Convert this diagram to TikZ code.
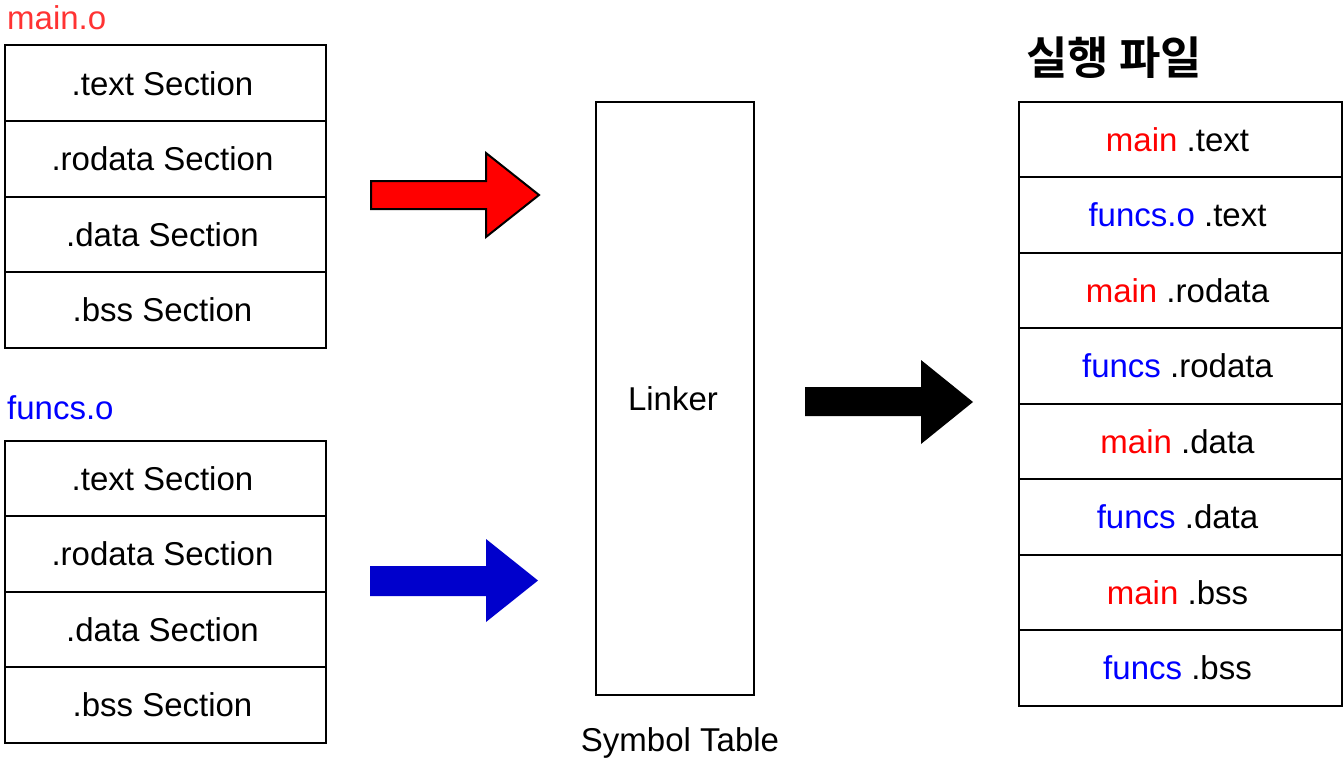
\documentclass[tikz,border=0pt]{standalone}
\usepackage{fontspec}
\setmainfont{Liberation Sans}
\newfontfamily\kr{Noto Sans CJK KR}[BoldFont={* Bold}]
\definecolor{lred}{HTML}{FF3333}
\definecolor{tred}{HTML}{FF0000}
\definecolor{tblue}{HTML}{0000FF}
\definecolor{ablue}{HTML}{0000CC}
\tikzset{
  sec/.style={draw=black, line width=2pt, minimum width=321pt, minimum height=75.5pt, anchor=north west, inner sep=0pt, font=\fontsize{33}{38}\selectfont},
  lbl/.style={anchor=west, inner sep=0pt, font=\fontsize{33}{38}\selectfont},
  blockarrow/.style={line width=2pt, line join=miter},
}
\newcommand{\lft}[1]{#1\hspace*{6pt}}
\begin{document}
\begin{tikzpicture}[x=1pt,y=-1pt]
\useasboundingbox (0,0) rectangle (1343,768);
% main.o
\node[lbl, text=lred] (mainlbl) at (7,18) {main.o};
\node[sec] (m1) at (4,44.5) {\lft{.text Section}};
\node[sec] (m2) at (4,120) {\lft{.rodata Section}};
\node[sec] (m3) at (4,195.5) {\lft{.data Section}};
\node[sec] (m4) at (4,271) {\lft{.bss Section}};
% funcs.o
\node[lbl, text=tblue] (funcslbl) at (7,408) {funcs.o};
\node[sec] (f1) at (4,439.5) {\lft{.text Section}};
\node[sec] (f2) at (4,515) {\lft{.rodata Section}};
\node[sec] (f3) at (4,590.5) {\lft{.data Section}};
\node[sec] (f4) at (4,666) {\lft{.bss Section}};
% linker
\node[draw, line width=2pt, minimum width=158pt, minimum height=593pt, inner sep=0pt, anchor=north west] (linker) at (595,100.5) {};
\node[font=\fontsize{33}{38}\selectfont, inner sep=0pt] (linkertxt) at (673,399) {Linker};
\node[font=\fontsize{33}{38}\selectfont, inner sep=0pt] (symtab) at (680,743) {Symbol Table};
% arrows
\draw[blockarrow, fill=tred, draw=black] (371,181) -- (486,181) -- (486,153) -- (539,195) -- (486,237) -- (486,209) -- (371,209) -- cycle;
\fill[ablue] (370,566) -- (486,566) -- (486,539) -- (538,580.5) -- (486,622) -- (486,596) -- (370,596) -- cycle;
\fill[black] (805,387) -- (921,387) -- (921,360) -- (973,402) -- (921,444) -- (921,416) -- (805,416) -- cycle;
% executable
\node[anchor=west, inner sep=0pt, font=\kr\bfseries\fontsize{45}{50}\selectfont] (exetitle) at (1026,58) {실행 파일};
\node[sec, minimum width=323pt] (e1) at (1018,100.5) {\lft{\textcolor{tred}{main} .text}};
\node[sec, minimum width=323pt] (e2) at (1018,176) {\lft{\textcolor{tblue}{funcs.o} .text}};
\node[sec, minimum width=323pt] (e3) at (1018,251.5) {\lft{\textcolor{tred}{main} .rodata}};
\node[sec, minimum width=323pt] (e4) at (1018,327) {\lft{\textcolor{tblue}{funcs} .rodata}};
\node[sec, minimum width=323pt] (e5) at (1018,402.5) {\lft{\textcolor{tred}{main} .data}};
\node[sec, minimum width=323pt] (e6) at (1018,478) {\lft{\textcolor{tblue}{funcs} .data}};
\node[sec, minimum width=323pt] (e7) at (1018,553.5) {\lft{\textcolor{tred}{main} .bss}};
\node[sec, minimum width=323pt] (e8) at (1018,629) {\lft{\textcolor{tblue}{funcs} .bss}};
\end{tikzpicture}
\end{document}
